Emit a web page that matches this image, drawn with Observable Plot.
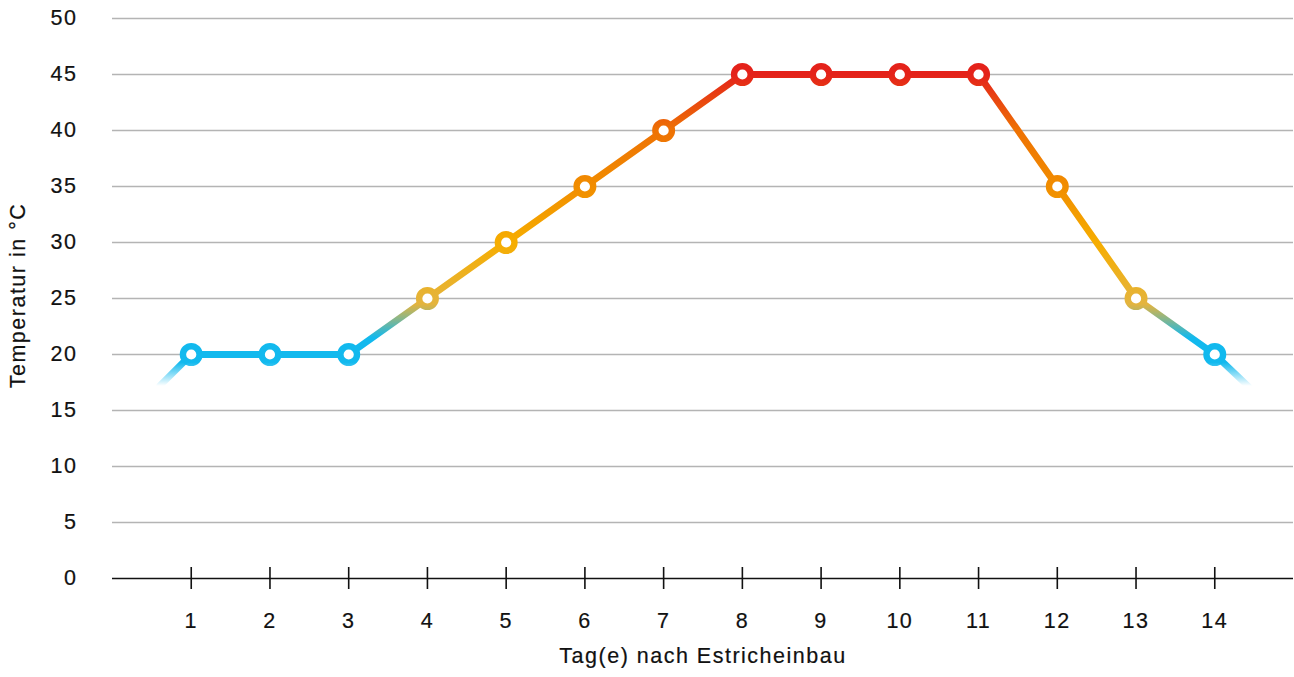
<!DOCTYPE html>
<html>
<head>
<meta charset="utf-8">
<script src="https://cdn.jsdelivr.net/npm/d3@7"></script>
<script src="https://cdn.jsdelivr.net/npm/@observablehq/plot@0.6"></script>
<style>
  html, body { margin: 0; padding: 0; background: #fff; }
  #chart svg { display: block; }
  #chart svg text { letter-spacing: 1.5px; stroke: #111; stroke-width: 0.2px; }
</style>
</head>
<body>
<div id="chart"></div>
<script>
// ---- data ----
const days = [1, 2, 3, 4, 5, 6, 7, 8, 9, 10, 11, 12, 13, 14];
const temps = [20, 20, 20, 25, 30, 35, 40, 45, 45, 45, 45, 35, 25, 20];
const yTicks = [0, 5, 10, 15, 20, 25, 30, 35, 40, 45, 50];
// decorative fading line ends (lead-in / lead-out)
const leadDays = [0.6, 14.45];
const leadTemps = [17.2, 17.0];
const xLabel = "Tag(e) nach Estricheinbau";
const yLabel = "Temperatur in °C";

// ---- style: colour stops by temperature ----
const gradStops = [
  [17.2, "#12b9ee", 0],
  [19.3, "#12b9ee", 1],
  [21.5, "#12b9ee", 1],
  [24.5, "#e4b43e", 1],
  [30, "#f6ad00", 1],
  [35, "#f18d00", 1],
  [40, "#ee7204", 1],
  [45, "#e4221a", 1]
];

const points = days.map((d, i) => ({day: d, temp: temps[i]}));
const linePts = [
  {day: leadDays[0], temp: leadTemps[0]},
  ...points,
  {day: leadDays[1], temp: leadTemps[1]}
];

const font = "'Liberation Sans', Arial, Helvetica, sans-serif";
const fs = 21.5;
const ink = "#111";

const plot = Plot.plot({
  width: 1294,
  height: 677,
  marginLeft: 112,
  marginRight: 1,
  marginTop: 18,
  marginBottom: 99,
  style: {fontFamily: font, fontSize: fs + "px", color: ink, background: "#fff"},
  x: {domain: [0, 15], axis: null},
  y: {domain: [0, 50], axis: null},
  marks: [
    Plot.ruleY(yTicks.filter(t => t > 0), {stroke: "#b4b4b4", strokeWidth: 1.4}),
    Plot.ruleY([0], {stroke: "#111", strokeWidth: 1.6}),
    Plot.ruleX(days, {x: d => d, y1: 0, y2: 0, insetTop: -11, insetBottom: -11, stroke: "#111", strokeWidth: 1.6}),
    Plot.axisY(yTicks, {tickSize: 0, tickPadding: 35, fontSize: fs, fill: ink, anchor: "left", label: null}),
    Plot.axisX(days, {tickSize: 0, tickPadding: 34, fontSize: fs, fill: ink, anchor: "bottom", label: null}),
    Plot.text([xLabel], {frameAnchor: "bottom", dy: 84, fontSize: fs, fill: ink}),
    Plot.text([yLabel], {frameAnchor: "left", textAnchor: "middle", dx: -94, dy: -3, rotate: -90, fontSize: fs, fill: ink}),
    Plot.line(linePts, {x: "day", y: "temp", stroke: "url(#tempGrad)", strokeWidth: 6.8, strokeLinejoin: "round", curve: "linear"}),
    Plot.dot(points, {x: "day", y: "temp", r: 8.3, fill: "#fff", stroke: "url(#tempGrad)", strokeWidth: 6.4})
  ]
});

// gradient defs, positioned through the y scale
const ys = plot.scale("y");
const ns = "http://www.w3.org/2000/svg";
const defs = document.createElementNS(ns, "defs");
const lg = document.createElementNS(ns, "linearGradient");
lg.setAttribute("id", "tempGrad");
lg.setAttribute("gradientUnits", "userSpaceOnUse");
const yA = ys.apply(gradStops[0][0]);
const yB = ys.apply(gradStops[gradStops.length - 1][0]);
lg.setAttribute("x1", 0); lg.setAttribute("x2", 0);
lg.setAttribute("y1", yA); lg.setAttribute("y2", yB);
for (const [t, c, o] of gradStops) {
  const s = document.createElementNS(ns, "stop");
  s.setAttribute("offset", ((ys.apply(t) - yA) / (yB - yA)).toFixed(4));
  s.setAttribute("stop-color", c);
  s.setAttribute("stop-opacity", o);
  lg.appendChild(s);
}
defs.appendChild(lg);
plot.insertBefore(defs, plot.firstChild);

document.getElementById("chart").appendChild(plot);
</script>
</body>
</html>
